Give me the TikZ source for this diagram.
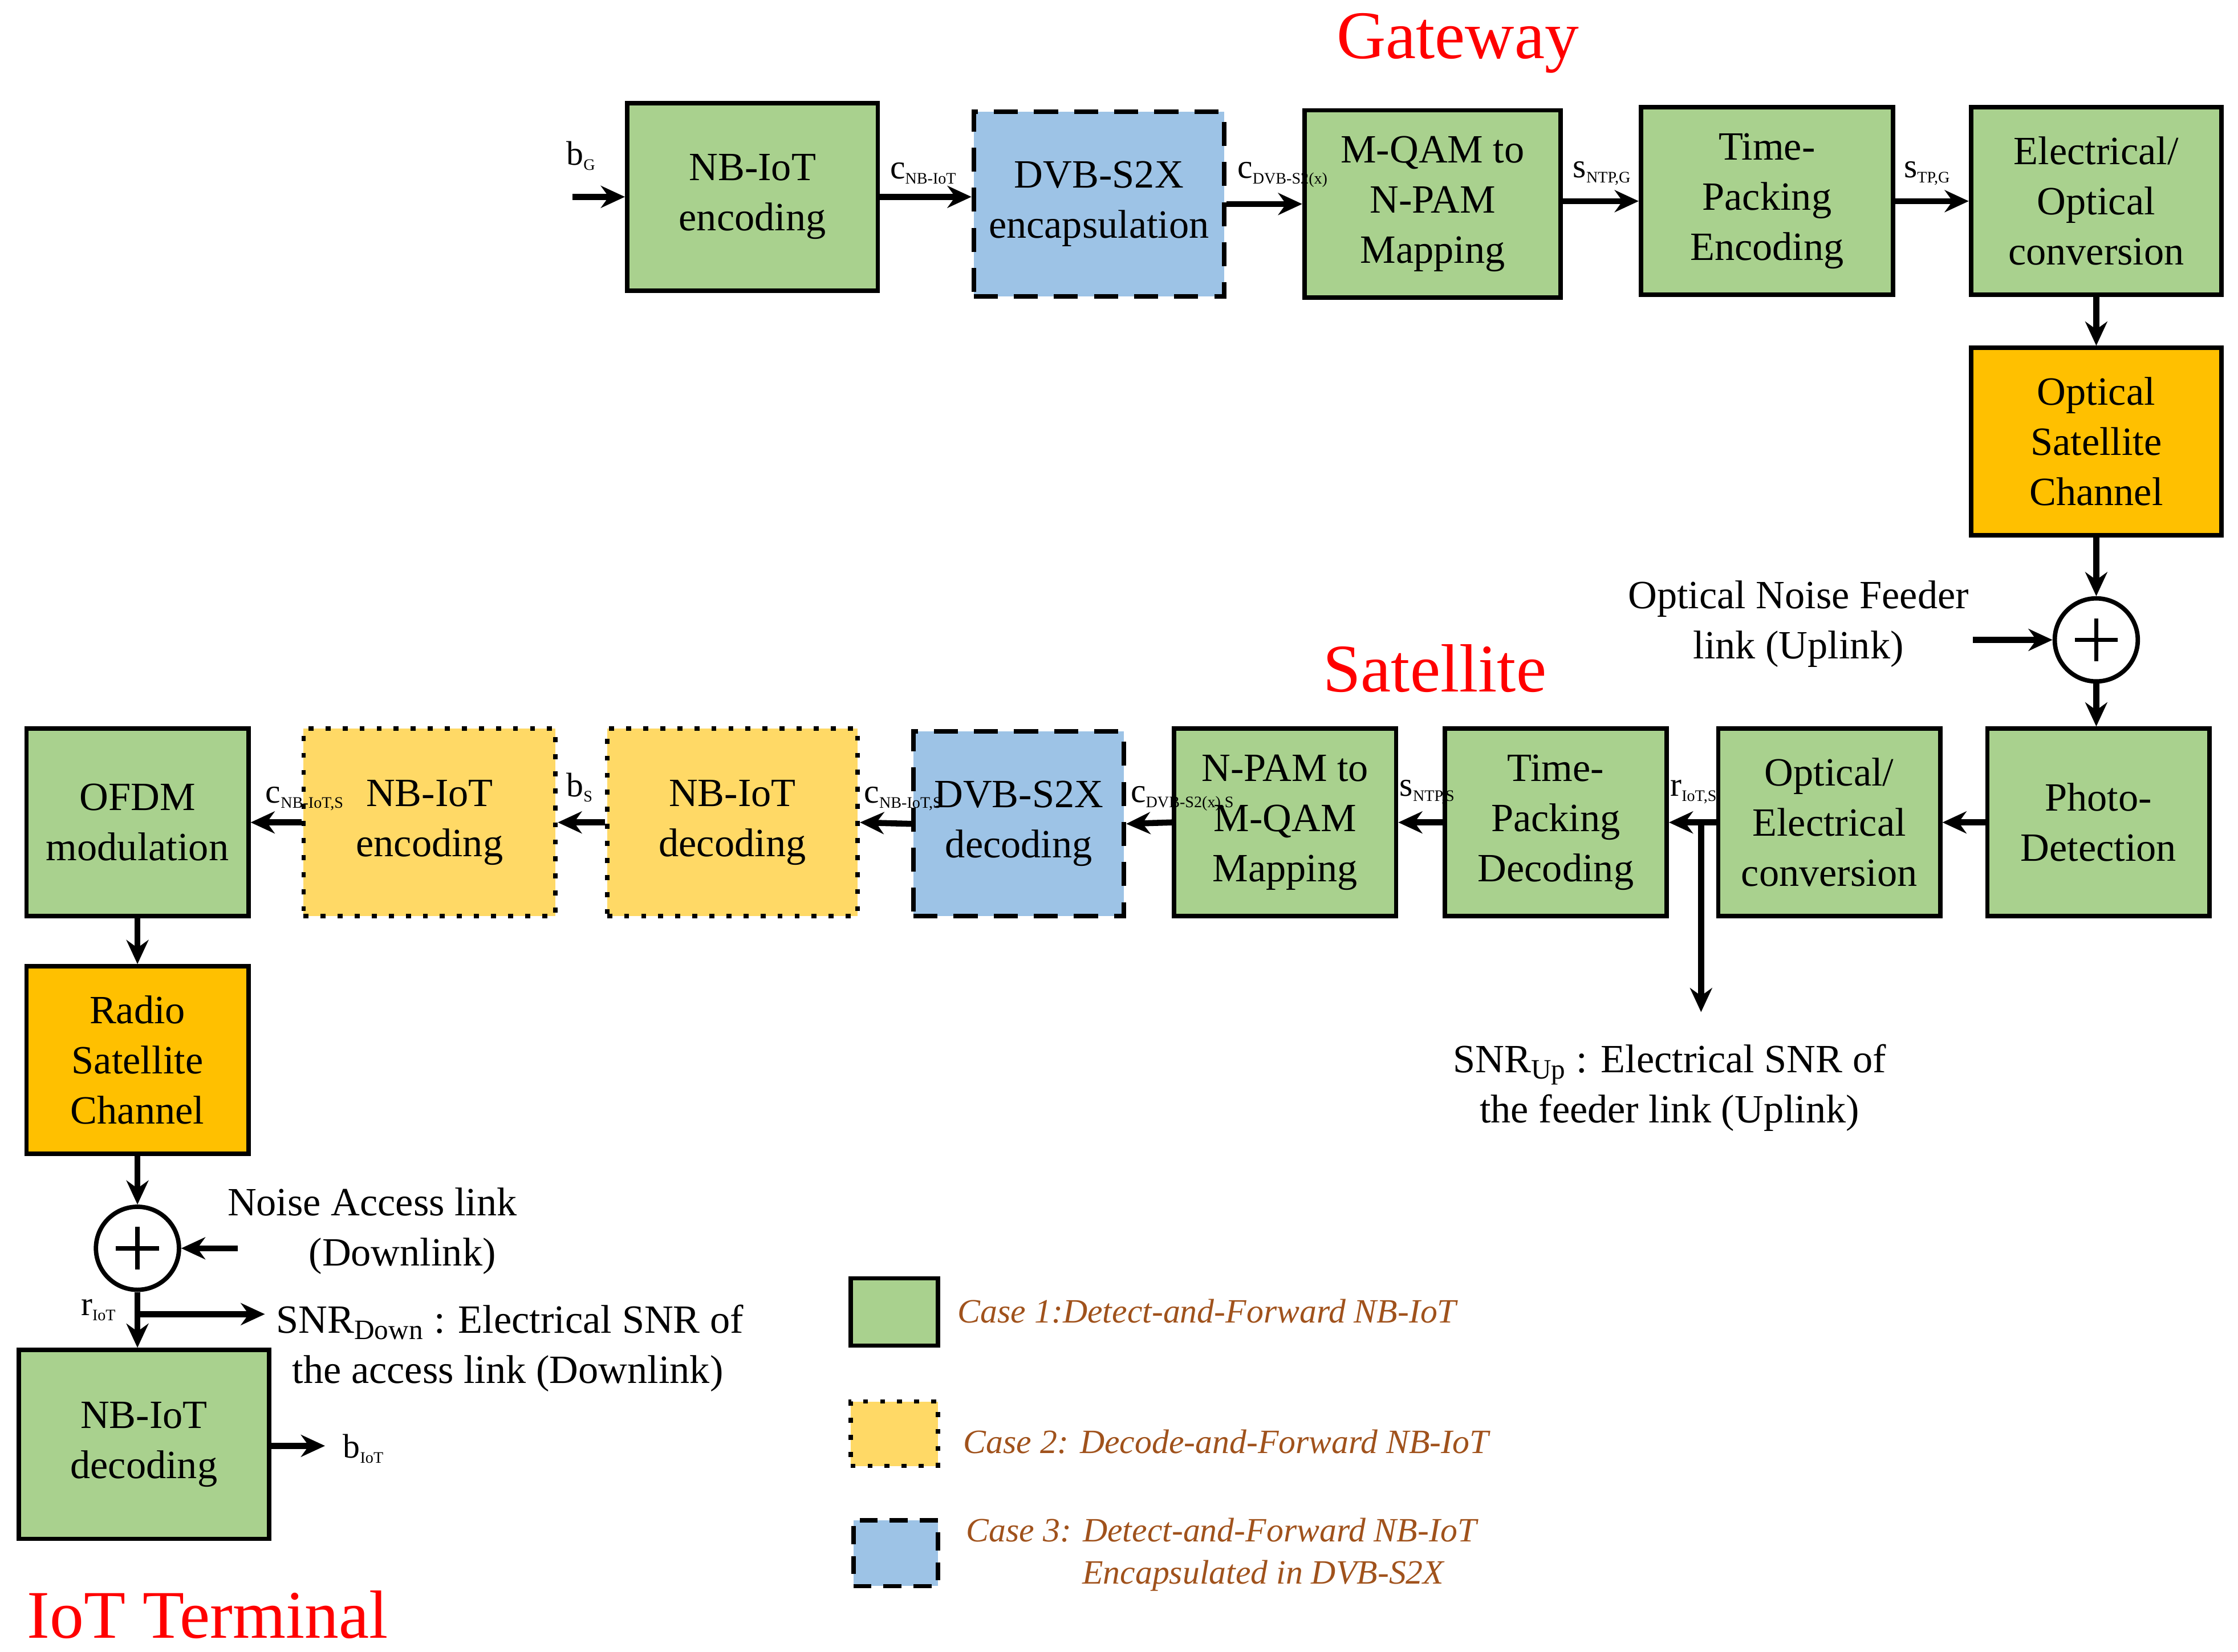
\documentclass[tikz,border=0pt]{standalone}
\usepackage{fontspec}
\setmainfont{Liberation Serif}
\usetikzlibrary{arrows.meta}
\definecolor{gr}{HTML}{A9D18E}
\definecolor{bl}{HTML}{9DC3E6}
\definecolor{ye}{HTML}{FFD966}
\definecolor{og}{HTML}{FFC000}
\definecolor{lg}{HTML}{A0521C}
\newcommand{\sbx}[1]{\textsubscript{\fontsize{8}{9}\selectfont #1}}
\begin{document}
\begin{tikzpicture}[x=0.0251cm,y=-0.0251cm,
 blk/.style={draw,line width=2.2pt,align=center,font=\fontsize{20}{25}\selectfont,inner sep=0pt},
 grb/.style={blk,fill=gr},
 blb/.style={blk,fill=bl,dash pattern=on 12pt off 8pt},
 yeb/.style={blk,fill=ye,dash pattern=on 2.5pt off 6pt},
 ogb/.style={blk,fill=og},
 ar/.style={line width=3pt,-{Stealth[length=12pt,width=11pt]}},
 lab/.style={font=\fontsize{17}{20}\selectfont,inner sep=1pt},
 ttl/.style={text=red,font=\fontsize{34}{40}\selectfont},
 txt/.style={font=\fontsize{20}{25}\selectfont,align=center},
 leg/.style={font=\itshape\fontsize{17}{21}\selectfont,text=lg,align=left,anchor=west},
 pl/.style={draw,circle,line width=2.2pt,minimum size=58*0.0251cm,inner sep=0pt}]
\useasboundingbox (0,0) rectangle (1563,1154);
% gateway row
\node[grb,minimum width=175*0.0251cm,minimum height=131*0.0251cm] (a1) at (525.5,137.5) {NB-IoT\\encoding};
\node[blb,minimum width=175*0.0251cm,minimum height=129*0.0251cm] (a2) at (767.5,142.5) {DVB-S2X\\encapsulation};
\node[grb,minimum width=179*0.0251cm,minimum height=131*0.0251cm] (a3) at (1000.5,142.5) {M-QAM to\\N-PAM\\Mapping};
\node[grb,minimum width=176*0.0251cm,minimum height=131*0.0251cm] (a4) at (1234,140.5) {Time-\\Packing\\Encoding};
\node[grb,minimum width=175*0.0251cm,minimum height=131*0.0251cm] (a5) at (1464,140.5) {Electrical/\\Optical\\conversion};
\node[ogb,minimum width=175*0.0251cm,minimum height=131*0.0251cm] (a6) at (1464,308.5) {Optical\\Satellite\\Channel};
\node[pl] (p1) at (1464,447) {};
\draw[line width=2.2pt] (1464,432)--(1464,462) (1449,447)--(1479,447);
% satellite row
\node[grb,minimum width=155*0.0251cm,minimum height=131*0.0251cm] (b1) at (1465.5,574.5) {Photo-\\Detection};
\node[grb,minimum width=155*0.0251cm,minimum height=131*0.0251cm] (b2) at (1277.5,574.5) {Optical/\\Electrical\\conversion};
\node[grb,minimum width=155*0.0251cm,minimum height=131*0.0251cm] (b3) at (1086.5,574.5) {Time-\\Packing\\Decoding};
\node[grb,minimum width=155*0.0251cm,minimum height=131*0.0251cm] (b4) at (897.5,574.5) {N-PAM to\\M-QAM\\Mapping};
\node[blb,minimum width=147*0.0251cm,minimum height=129*0.0251cm] (b5) at (711.5,575.5) {DVB-S2X\\decoding};
\node[yeb,minimum width=175*0.0251cm,minimum height=131*0.0251cm] (b6) at (511.5,574.5) {NB-IoT\\decoding};
\node[yeb,minimum width=176*0.0251cm,minimum height=131*0.0251cm] (b7) at (300,574.5) {NB-IoT\\encoding};
\node[grb,minimum width=155*0.0251cm,minimum height=131*0.0251cm] (b8) at (96,574.5) {OFDM\\modulation};
% terminal
\node[ogb,minimum width=155*0.0251cm,minimum height=131*0.0251cm] (c1) at (96,740.5) {Radio\\Satellite\\Channel};
\node[pl] (p2) at (96,872) {};
\draw[line width=2.2pt] (96,857)--(96,887) (81,872)--(111,872);
\node[grb,minimum width=175*0.0251cm,minimum height=132*0.0251cm] (c2) at (100.5,1009) {NB-IoT\\decoding};
% titles
\node[ttl] at (1018,30) {Gateway};
\node[ttl] at (1002,467) {Satellite};
\node[ttl] at (145,1128) {IoT Terminal};
% gateway arrows
\coordinate (in) at (400,137.5);
\draw[ar] (in) -- (a1.west);
\node[lab] at (406,109) {b\sbx{G}};
\draw[ar] (a1.east) -- (a2.west|-a1.east);
\node[lab] at (645,121) {c\sbx{NB-IoT}};
\draw[ar] (a2.east) -- (a3.west);
\node[lab] at (896,122) {c\sbx{DVB-S2(x)}};
\draw[ar] (a3.east|-a4.west) -- (a4.west);
\node[lab] at (1119,121) {s\sbx{NTP,G}};
\draw[ar] (a4.east) -- (a5.west);
\node[lab] at (1346,121) {s\sbx{TP,G}};
\draw[ar] (a5.south) -- (a6.north);
\draw[ar] (a6.south) -- (p1.north);
\coordinate (n1) at (1378,447);
\draw[ar] (n1) -- (p1.west);
\node[txt] at (1256,436) {Optical Noise Feeder\\link (Uplink)};
\draw[ar] (p1.south) -- (p1.south|-b1.north);
% satellite arrows
\draw[ar] (b1.west) -- (b2.east);
\draw[ar] (b2.west) -- (b3.east);
\coordinate (br) at (1188,574.5);
\coordinate (brd) at (1188,707);
\draw[ar] (br) -- (brd);
\node[lab] at (1183,553) {r\sbx{IoT,S}};
\node[txt] at (1166,760) {SNR\textsubscript{Up} : Electrical SNR of\\the feeder link (Uplink)};
\draw[ar] (b3.west) -- (b4.east);
\node[lab] at (997,553) {s\sbx{NTP,S}};
\draw[ar] (b4.west) -- (b5.east);
\node[lab] at (826,558) {c\sbx{DVB-S2(x),S}};
\draw[ar] (b5.west) -- (b6.east);
\node[lab] at (631,558) {c\sbx{NB-IoT,S}};
\draw[ar] (b6.west) -- (b7.east);
\node[lab] at (405,550) {b\sbx{S}};
\draw[ar] (b7.west) -- (b8.east);
\node[lab] at (213,558) {c\sbx{NB-IoT,S}};
\draw[ar] (b8.south) -- (c1.north);
\draw[ar] (c1.south) -- (p2.north);
\coordinate (n2) at (166,872);
\draw[ar] (n2) -- (p2.east);
\node[txt] at (260,860) {Noise Access link\\\hspace*{1.5em}(Downlink)};
\draw[ar] (p2.south) -- (p2.south|-c2.north);
\coordinate (sd0) at (96,918);
\coordinate (sd) at (185,918);
\draw[ar] (sd0) -- (sd);
\node[lab] at (69,915) {r\sbx{IoT}};
\node[txt,align=left,anchor=west] at (188,942) {SNR\textsubscript{Down} : Electrical SNR of\\\hspace*{0.4em}the access link (Downlink)};
\coordinate (out) at (227,1010);
\draw[ar] (c2.east|-out) -- (out);
\node[lab] at (254,1012) {b\sbx{IoT}};
% legend
\node[grb,minimum width=61*0.0251cm,minimum height=47*0.0251cm] (l1) at (624.5,916.5) {};
\node[yeb,minimum width=61*0.0251cm,minimum height=45*0.0251cm] (l2) at (624.5,1001.5) {};
\node[blb,minimum width=59*0.0251cm,minimum height=46*0.0251cm,dash pattern=on 9pt off 6pt] (l3) at (625.5,1085) {};
\node[leg] at (664,916) {Case 1:Detect-and-Forward NB-IoT};
\node[leg] at (668,1007) {Case 2: Decode-and-Forward NB-IoT};
\node[leg] at (670,1086) {Case 3: Detect-and-Forward NB-IoT\\\hspace*{3.4em}Encapsulated in DVB-S2X};
\end{tikzpicture}
\end{document}
